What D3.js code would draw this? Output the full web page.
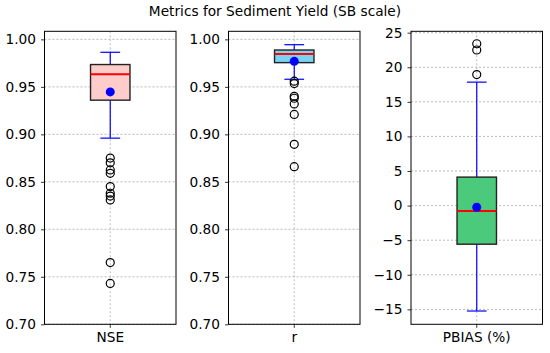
<!DOCTYPE html>
<html><head><meta charset="utf-8">
<script src="https://cdn.jsdelivr.net/npm/d3@7"></script>
<style>
html,body{margin:0;padding:0;background:#fff;}
svg text{font-family:"DejaVu Sans",sans-serif;}
</style></head>
<body><svg id="c" width="550" height="353"></svg>
<script>
const title = "Metrics for Sediment Yield (SB scale)";
const metrics = ["NSE", "r", "PBIAS (%)"];
const whiskerLow = [0.896, 0.958, -15.24];
const q1 = [0.936, 0.9755, -5.58];
const median = [0.9633, 0.9846, -0.78];
const q3 = [0.9735, 0.9888, 4.12];
const whiskerHigh = [0.9864, 0.9944, 17.85];
const means = [0.9447, 0.9769, -0.24];
const outliersNSE = [0.875, 0.870, 0.8625, 0.859, 0.845, 0.838, 0.8350, 0.831, 0.765, 0.743];
const outliersR = [0.956, 0.9535, 0.940, 0.938, 0.932, 0.921, 0.8895, 0.866];
const outliersPBIAS = [23.4, 22.5, 18.95];
const outliers = [outliersNSE, outliersR, outliersPBIAS];
const yDomains = [[0.7, 1.0085], [0.7, 1.0085], [-17.16, 25.2]];
const yTicksNSE = [0.70, 0.75, 0.80, 0.85, 0.90, 0.95, 1.00];
const yTicksR = [0.70, 0.75, 0.80, 0.85, 0.90, 0.95, 1.00];
const yTicksPBIAS = [-15, -10, -5, 0, 5, 10, 15, 20, 25];
const yTicks = [yTicksNSE, yTicksR, yTicksPBIAS];
const fills = ["#ffcccc", "#7ad3f2", "#4cca7b"];

const svg = d3.select("#c");
const panelLeft = [44.5, 228.5, 411];
const panelW = 131.5, plotTop = 31.3, plotBottom = 324.3;
const fs = "13.7px";

svg.append("text").attr("x", 275).attr("y", 16).attr("text-anchor", "middle")
  .attr("font-size", fs).attr("fill", "#000").text(title);

metrics.forEach((m, i) => {
  const g = svg.append("g").attr("transform", `translate(${panelLeft[i]},0)`);
  const x = d3.scaleBand().domain([m]).range([0, panelW]).paddingInner(0).paddingOuter(0);
  const y = d3.scaleLinear().domain(yDomains[i]).range([plotBottom, plotTop]);
  const fmt = i < 2 ? d3.format(".2f") : d3.format("d");
  const cx = x(m) + x.bandwidth() / 2;
  const bw = panelW * 0.3;

  // grid
  g.append("g").selectAll("line").data(yTicks[i]).join("line")
    .attr("x1", 0).attr("x2", panelW).attr("y1", d => y(d)).attr("y2", d => y(d))
    .attr("stroke", "#a8a8a8").attr("stroke-width", 0.8).attr("stroke-dasharray", "2,2");
  g.append("line").attr("x1", cx).attr("x2", cx).attr("y1", plotTop).attr("y2", plotBottom)
    .attr("stroke", "#a8a8a8").attr("stroke-width", 0.8).attr("stroke-dasharray", "2,2");

  // whiskers
  g.append("line").attr("x1", cx).attr("x2", cx).attr("y1", y(whiskerLow[i])).attr("y2", y(q1[i]))
    .attr("stroke", "blue").attr("stroke-width", 1.2);
  g.append("line").attr("x1", cx).attr("x2", cx).attr("y1", y(whiskerHigh[i])).attr("y2", y(q3[i]))
    .attr("stroke", "blue").attr("stroke-width", 1.2);
  [whiskerLow[i], whiskerHigh[i]].forEach(v => {
    g.append("line").attr("x1", cx - bw / 4).attr("x2", cx + bw / 4).attr("y1", y(v)).attr("y2", y(v))
      .attr("stroke", "blue").attr("stroke-width", 1.2);
  });
  // box
  g.append("rect").attr("x", cx - bw / 2).attr("width", bw)
    .attr("y", y(q3[i])).attr("height", y(q1[i]) - y(q3[i]))
    .attr("fill", fills[i]).attr("stroke", "#222").attr("stroke-width", 1.4);
  // median
  g.append("line").attr("x1", cx - bw / 2).attr("x2", cx + bw / 2).attr("y1", y(median[i])).attr("y2", y(median[i]))
    .attr("stroke", "red").attr("stroke-width", 2);
  // outliers
  g.append("g").selectAll("circle").data(outliers[i]).join("circle")
    .attr("cx", cx).attr("cy", d => y(d)).attr("r", 4)
    .attr("fill", "none").attr("stroke", "#000").attr("stroke-width", 1.2);
  // mean
  g.append("circle").attr("cx", cx).attr("cy", y(means[i])).attr("r", 4.5).attr("fill", "blue");

  // frame
  g.append("rect").attr("x", 0).attr("y", plotTop).attr("width", panelW).attr("height", plotBottom - plotTop)
    .attr("fill", "none").attr("stroke", "#000").attr("stroke-width", 1);

  // axes
  const ya = g.append("g").call(d3.axisLeft(y).tickValues(yTicks[i]).tickFormat(fmt).tickSize(3.5).tickPadding(5));
  ya.select(".domain").remove();
  ya.selectAll("text").attr("font-size", fs).attr("fill", "#000").attr("font-family", "DejaVu Sans")
    .text(d => fmt(d).replace("-", "\u2212"));
  ya.selectAll("line").attr("stroke", "#000").attr("stroke-width", 0.8);
  const xa = g.append("g").attr("transform", `translate(0,${plotBottom})`)
    .call(d3.axisBottom(x).tickSize(3.5).tickPadding(4));
  xa.select(".domain").remove();
  xa.selectAll("text").attr("font-size", fs).attr("fill", "#000").attr("font-family", "DejaVu Sans");
  xa.selectAll("line").attr("stroke", "#000").attr("stroke-width", 0.8);
});
</script></body></html>
